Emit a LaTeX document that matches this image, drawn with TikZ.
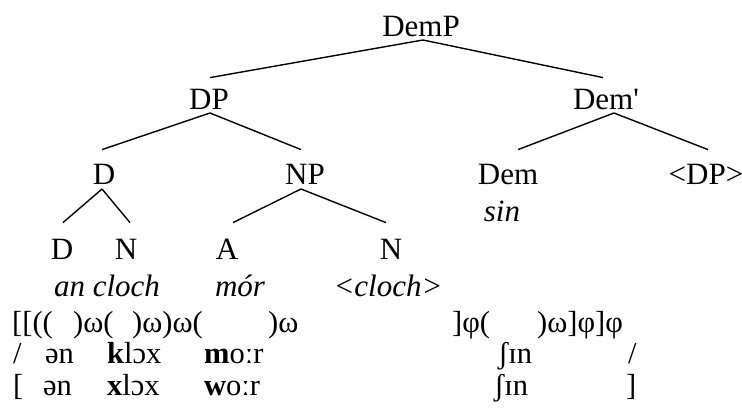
\documentclass[tikz,border=0pt]{standalone}
\usepackage{fontspec}
\setmainfont{Liberation Serif}[Ligatures=TeXOff]
\usetikzlibrary{positioning}
\tikzstyle{cat} = [inner sep=0pt, anchor=south, text height=20pt, text depth=0pt, font=\fontsize{31}{36}\selectfont]
\tikzstyle{word} = [cat, font=\fontsize{31}{36}\selectfont\itshape]
\tikzstyle{branch} = [line width=1.4pt]
\tikzstyle{ipa} = [inner sep=0pt, anchor=base west, font=\fontsize{30.5}{36}\selectfont]

\begin{document}
\begin{tikzpicture}[x=1pt, y=-1pt]
    \useasboundingbox (0,0) rectangle (742,417);

    % Tree
    \node (DemP) [cat] at (421,37) {DemP};
    \node (DP) [cat] at (209,110) {DP};
    \node (DemBar) [cat] at (606,110) {Dem'};

    \node (D) [cat] at (104,185) {D};
    \node (NP) [cat] at (305,185) {NP};
    \node (Dem) [cat] at (508,185) {Dem};
    \node (DPcopy) [cat] at (706,185) {<DP>};
    \node (sin) [word] at (502,222) {sin};

    \node (Dleaf) [cat] at (62,260) {D};
    \node (Nleaf) [cat] at (126,260) {N};
    \node (A) [cat] at (227,260) {A};
    \node (Ncopy) [cat] at (391,260) {N};

    \node (ancloch) [word] at (107,297) {an cloch};
    \node (mor) [word] at (240,297) {mór};
    \node (cloch) [word] at (388,297) {<cloch>};

    % Prosodic structure
    \node (pw1) [ipa] at (12,332) {[[((};
    \node (pw2) [ipa] at (73,332) {)ω(};
    \node (pw3) [ipa] at (132,332) {)ω)ω(};
    \node (pw4) [ipa] at (268,332) {)ω};
    \node (pp1) [ipa] at (452,332) {]φ(};
    \node (pp2) [ipa] at (537,332) {)ω]φ]φ};

    % Underlying form
    \node (ur0) [ipa] at (13,363) {/};
    \node (ur1) [ipa] at (45,363) {ən};
    \node (ur2) [ipa] at (107,363) {\textbf{k}lɔx};
    \node (ur3) [ipa] at (204,363) {\textbf{m}oːr};
    \node (ur4) [ipa] at (498,363) {ʃɪn};
    \node (ur5) [ipa] at (628,363) {/};

    % Surface form
    \node (sr0) [ipa] at (13,395) {[};
    \node (sr1) [ipa] at (43,395) {ən};
    \node (sr2) [ipa] at (107,395) {\textbf{x}lɔx};
    \node (sr3) [ipa] at (204,395) {\textbf{w}oːr};
    \node (sr4) [ipa] at (494,395) {ʃɪn};
    \node (sr5) [ipa] at (626,395) {]};

    % ==== Branches
    \draw [branch] ([shift={(2,3)}]DemP.south) -- ([shift={(1,-12)}]DP.north);
    \draw [branch] ([shift={(2,3)}]DemP.south) -- ([shift={(-3,-12)}]DemBar.north);

    \draw [branch] ([shift={(1,3)}]DP.south) -- ([shift={(-2,-15)}]D.north);
    \draw [branch] ([shift={(1,3)}]DP.south) -- ([shift={(-4,-15)}]NP.north);
    \draw [branch] ([shift={(8,3)}]DemBar.south) -- ([shift={(10,-15)}]Dem.north);
    \draw [branch] ([shift={(8,3)}]DemBar.south) -- ([shift={(2,-15)}]DPcopy.north);

    \draw [branch] ([shift={(-2,4)}]D.south) -- ([shift={(1,-17)}]Dleaf.north);
    \draw [branch] ([shift={(-2,4)}]D.south) -- ([shift={(4,-17)}]Nleaf.north);
    \draw [branch] ([shift={(-4,4)}]NP.south) -- ([shift={(6,-17)}]A.north);
    \draw [branch] ([shift={(-4,4)}]NP.south) -- ([shift={(-5,-17)}]Ncopy.north);

\end{tikzpicture}
\end{document}
